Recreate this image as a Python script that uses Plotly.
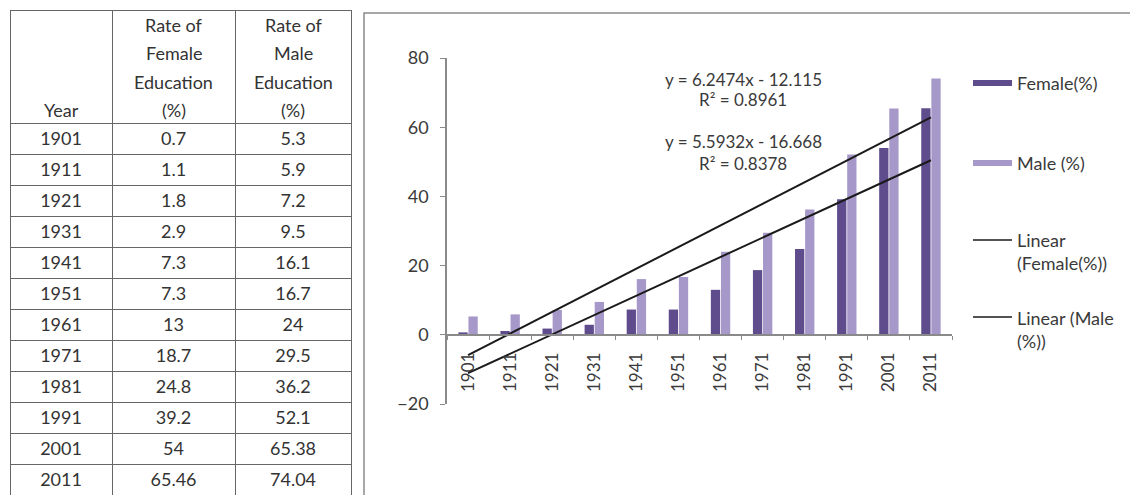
import plotly.graph_objects as go

# Census years and education rates (%)
years = ["1901", "1911", "1921", "1931", "1941", "1951",
         "1961", "1971", "1981", "1991", "2001", "2011"]
female_rate = [0.7, 1.1, 1.8, 2.9, 7.3, 7.3, 13, 18.7, 24.8, 39.2, 54, 65.46]
male_rate = [5.3, 5.9, 7.2, 9.5, 16.1, 16.7, 24, 29.5, 36.2, 52.1, 65.38, 74.04]
female_table = ["0.7", "1.1", "1.8", "2.9", "7.3", "7.3", "13", "18.7",
                "24.8", "39.2", "54", "65.46"]
male_table = ["5.3", "5.9", "7.2", "9.5", "16.1", "16.7", "24", "29.5",
              "36.2", "52.1", "65.38", "74.04"]

# Linear trendlines (female, male): y = slope * x + intercept, x = 1..12
trend_slope = [5.5932, 6.2474]
trend_intercept = [-16.668, -12.115]
trend_r2 = [0.8378, 0.8961]

# header lines per column, bottom-aligned
table_header = [["Year"],
                ["Rate of", "Female", "Education", "(%)"],
                ["Rate of", "Male", "Education", "(%)"]]
legend_labels = ["Female(%)", "Male (%)", "Linear<br>(Female(%))", "Linear (Male<br>(%))"]

W, H = 1130, 495
FONT = "Lato, 'Liberation Sans', Arial, sans-serif"
TXT = "#3a3a3a"
FEMALE_C = "#5f4c8c"
MALE_C = "#a698c8"


def px(x):
    return x / W


def py(y):
    return 1 - y / H


fig = go.Figure()

# data table on the left
col_edges = [10, 112, 235, 351]
fig.add_trace(go.Table(
    domain=dict(x=[px(col_edges[0]), px(col_edges[-1])], y=[0, py(10)]),
    columnwidth=[b - a for a, b in zip(col_edges[:-1], col_edges[1:])],
    header=dict(values=["", "", ""], height=113, align="center",
                fill_color="white", line=dict(color="#666666", width=1),
                font=dict(family=FONT, size=18, color="#333333")),
    cells=dict(values=[years, female_table, male_table], height=31,
               align="center", fill_color="white",
               line=dict(color="#666666", width=1),
               font=dict(family=FONT, size=18, color="#333333")),
))

annotations = []
header_line_y = [25, 53, 82, 110]
for c, lines in enumerate(table_header):
    cx = (col_edges[c] + col_edges[c + 1]) / 2
    for k, txt in enumerate(lines):
        annotations.append(dict(
            x=px(cx), y=py(header_line_y[len(header_line_y) - len(lines) + k]),
            xref="paper", yref="paper", showarrow=False, text=txt,
            xanchor="center", yanchor="middle",
            font=dict(family=FONT, size=18, color="#333333")))

# clustered bars
fig.add_trace(go.Bar(x=years, y=female_rate, name="Female(%)",
                     marker=dict(color=FEMALE_C, line=dict(width=0)),
                     showlegend=False))
fig.add_trace(go.Bar(x=years, y=male_rate, name="Male (%)",
                     marker=dict(color=MALE_C, line=dict(width=0)),
                     showlegend=False))

# trendlines
for s, b, nm in zip(trend_slope, trend_intercept, ["Linear (Female(%))", "Linear (Male (%))"]):
    fig.add_trace(go.Scatter(
        x=years, y=[s * (i + 1) + b for i in range(len(years))],
        mode="lines", line=dict(color="#1a1a1a", width=2),
        name=nm, showlegend=False))

# trendline equations (male above, female below)
eq_rows = [(1, 79, 100), (0, 141, 163)]
for idx, y_eq, y_r2 in eq_rows:
    annotations.append(dict(
        x=px(743), y=py(y_eq), xref="paper", yref="paper", showarrow=False,
        text=f"y = {trend_slope[idx]:.4f}x - {abs(trend_intercept[idx]):.3f}",
        font=dict(family=FONT, size=17, color=TXT), xanchor="center", yanchor="middle"))
    annotations.append(dict(
        x=px(743), y=py(y_r2), xref="paper", yref="paper", showarrow=False,
        text=f"R\u00b2 = {trend_r2[idx]:.4f}",
        font=dict(family=FONT, size=17, color=TXT), xanchor="center", yanchor="middle"))

# legend on the right
shapes = []
legend_y = [83, 163, 252, 329]
swatch_kind = [FEMALE_C, MALE_C, None, None]
for lab, ly, col in zip(legend_labels, legend_y, swatch_kind):
    if col is not None:
        shapes.append(dict(type="rect", xref="paper", yref="paper",
                           x0=px(973), x1=px(1012), y0=py(ly + 3), y1=py(ly - 3),
                           fillcolor=col, line=dict(width=0)))
    else:
        shapes.append(dict(type="line", xref="paper", yref="paper",
                           x0=px(973), x1=px(1012), y0=py(ly - 12), y1=py(ly - 12),
                           line=dict(color="#1a1a1a", width=1.5)))
    annotations.append(dict(
        x=px(1015), y=py(ly), xref="paper", yref="paper", showarrow=False,
        text=lab, align="left", xanchor="left", yanchor="middle",
        font=dict(family=FONT, size=18, color=TXT)))

# chart frame
shapes.append(dict(type="rect", xref="paper", yref="paper",
                   x0=px(364), x1=px(1140), y0=py(505), y1=py(13),
                   line=dict(color="#8a8a8a", width=1.5), fillcolor="rgba(0,0,0,0)",
                   layer="below"))

y_top, y_bot = 58, 404
fig.update_layout(
    width=W, height=H,
    margin=dict(l=0, r=0, t=0, b=0, autoexpand=False),
    paper_bgcolor="white", plot_bgcolor="white",
    barmode="group", bargap=0.52, bargroupgap=0.08,
    font=dict(family=FONT, color=TXT),
    showlegend=False,
    xaxis=dict(domain=[px(447), px(952)], type="category",
               anchor="free", position=py(335), automargin=False,
               showline=True, linecolor="#8a8a8a", linewidth=1.5,
               ticks="outside", tickson="boundaries", ticklen=4, tickcolor="#8a8a8a",
               tickangle=-90, ticklabelstandoff=10,
               tickfont=dict(family=FONT, size=17, color=TXT),
               showgrid=False, zeroline=False),
    yaxis=dict(domain=[py(y_bot), py(y_top)], range=[-20, 80], automargin=False,
               tickvals=[-20, 0, 20, 40, 60, 80],
               showline=True, linecolor="#8a8a8a", linewidth=1.5,
               ticks="outside", ticklen=5, tickcolor="#8a8a8a",
               ticklabelstandoff=8,
               tickfont=dict(family=FONT, size=18, color=TXT),
               showgrid=False, zeroline=False),
    annotations=annotations,
    shapes=shapes,
)

fig.write_html("out.html")
